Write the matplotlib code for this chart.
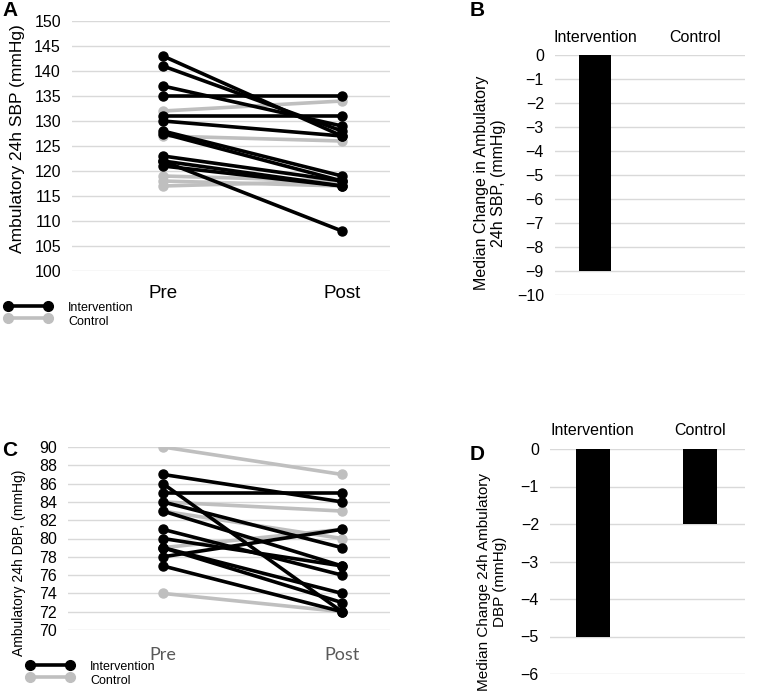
import matplotlib
matplotlib.use("Agg")
import matplotlib.pyplot as plt
from matplotlib.lines import Line2D

plt.rcParams['font.family'] = ['Liberation Sans', 'DejaVu Sans']

W, H = 759, 699

# ---------------- data ----------------
time_labels = ["Pre", "Post"]

sbp_int_pre  = [143, 141, 137, 135, 131, 130, 128, 127.5, 123, 122, 121, 122]
sbp_int_post = [127, 128, 129, 135, 131, 127, 119, 118, 118, 108, 117, 117]
sbp_con_pre  = [132, 127, 119, 118, 117]
sbp_con_post = [134, 126, 118, 117, 118]

dbp_int_pre  = [87, 86, 85, 84, 83, 81, 80, 79, 79, 78, 77]
dbp_int_post = [84, 72, 85, 79, 77, 76, 77, 74, 73, 81, 72]
dbp_con_pre  = [90, 84, 83, 79, 74]
dbp_con_post = [87, 83, 80, 81, 72]

groups = ["Intervention", "Control"]
sbp_median_change = [-9, 0]
dbp_median_change = [-5, -2]

BLACK = "#000000"
GRAY = "#bfbfbf"
GRID = "#d9d9d9"

fig = plt.figure(figsize=(W / 100, H / 100), dpi=100)


def ax_px(x0, y0, x1, y1):
    return fig.add_axes([x0 / W, 1 - y1 / H, (x1 - x0) / W, (y1 - y0) / H])


def fx(x):
    return x / W


def fy(y):
    return 1 - y / H


def style(ax):
    for s in ax.spines.values():
        s.set_visible(False)
    ax.tick_params(length=0)
    ax.yaxis.grid(True, color=GRID, linewidth=1)
    ax.set_axisbelow(True)


def paired(ax, pre_c, post_c, pre_i, post_i):
    xs = [0, 1]
    for a, b in zip(pre_c, post_c):
        ax.plot(xs, [a, b], color=GRAY, lw=2.6, marker='o', ms=6.5, zorder=2,
                solid_capstyle='round')
    for a, b in zip(pre_i, post_i):
        ax.plot(xs, [a, b], color=BLACK, lw=2.6, marker='o', ms=6.5, zorder=3,
                solid_capstyle='round')


def legend(x0, x1, y_int, y_con, tx, fs):
    for y, c in [(y_int, BLACK), (y_con, GRAY)]:
        fig.add_artist(Line2D([fx(x0), fx(x1)], [fy(y), fy(y)], transform=fig.transFigure,
                              color=c, lw=2.6, marker='o', ms=7))
    fig.text(fx(tx), fy(y_int + 2), "Intervention", fontsize=fs, va='center', ha='left')
    fig.text(fx(tx), fy(y_con + 4), "Control", fontsize=fs, va='center', ha='left')


# ---------------- Panel A ----------------
axA = ax_px(72, 21, 390, 271)
style(axA)
paired(axA, sbp_con_pre, sbp_con_post, sbp_int_pre, sbp_int_post)
axA.set_ylim(100, 150)
axA.set_yticks(range(100, 151, 5))
axA.set_xlim(-0.508, 1.268)
axA.set_xticks([0, 1])
axA.set_xticklabels(time_labels, fontsize=13.5)
axA.tick_params(axis='x', pad=10)
axA.tick_params(axis='y', labelsize=11.5, pad=8)
fig.text(fx(18), fy(139), "Ambulatory 24h SBP (mmHg)", rotation=90, fontsize=12.5,
         ha='center', va='center')
fig.text(fx(2), fy(10), "A", fontsize=15, fontweight='bold', ha='left', va='center')
legend(8, 48, 306, 318, 68, 9)

# ---------------- Panel B ----------------
axB = ax_px(555, 55, 745, 295)
style(axB)
axB.bar([0, 1], sbp_median_change, width=0.32, color=BLACK, zorder=3)
axB.set_ylim(-10, 0)
axB.set_yticks(range(-10, 1))
axB.set_xlim(-0.4, 1.5)
axB.set_xticks([0, 1])
axB.set_xticklabels(groups, fontsize=11.5)
axB.xaxis.tick_top()
axB.tick_params(axis='x', pad=7)
axB.tick_params(axis='y', labelsize=11.5, pad=8)
fig.text(fx(490), fy(183), "Median Change in Ambulatory\n24h SBP, (mmHg)", rotation=90,
         fontsize=11.5, ha='center', va='center', multialignment='center')
fig.text(fx(470), fy(10), "B", fontsize=15, fontweight='bold', ha='left', va='center')

# ---------------- Panel C ----------------
axC = ax_px(68, 447, 390, 630)
style(axC)
paired(axC, dbp_con_pre, dbp_con_post, dbp_int_pre, dbp_int_post)
axC.set_ylim(70, 90)
axC.set_yticks(range(70, 91, 2))
axC.set_xlim(-0.53, 1.268)
axC.set_xticks([0, 1])
axC.set_xticklabels(time_labels, fontsize=13, color="#595959", family=['Lato', 'DejaVu Sans'])
axC.tick_params(axis='x', pad=12)
axC.tick_params(axis='y', labelsize=11.5, pad=8)
fig.text(fx(19), fy(563), "Ambulatory 24h DBP, (mmHg)", rotation=90, fontsize=10,
         ha='center', va='center')
fig.text(fx(2), fy(450), "C", fontsize=15, fontweight='bold', ha='left', va='center')
legend(30, 70, 665, 677, 90, 9)

# ---------------- Panel D ----------------
axD = ax_px(550, 449, 745, 674)
style(axD)
axD.bar([0, 1], dbp_median_change, width=0.32, color=BLACK, zorder=3)
axD.set_ylim(-6, 0)
axD.set_yticks(range(-6, 1))
axD.set_xlim(-0.4, 1.42)
axD.set_xticks([0, 1])
axD.set_xticklabels(groups, fontsize=11.5)
axD.xaxis.tick_top()
axD.tick_params(axis='x', pad=8)
axD.tick_params(axis='y', labelsize=11.5, pad=8)
fig.text(fx(492), fy(582), "Median Change 24h Ambulatory\nDBP (mmHg)", rotation=90,
         fontsize=11, ha='center', va='center', multialignment='center')
fig.text(fx(470), fy(455), "D", fontsize=15, fontweight='bold', ha='left', va='center')

fig.savefig("out.png", dpi=100)
